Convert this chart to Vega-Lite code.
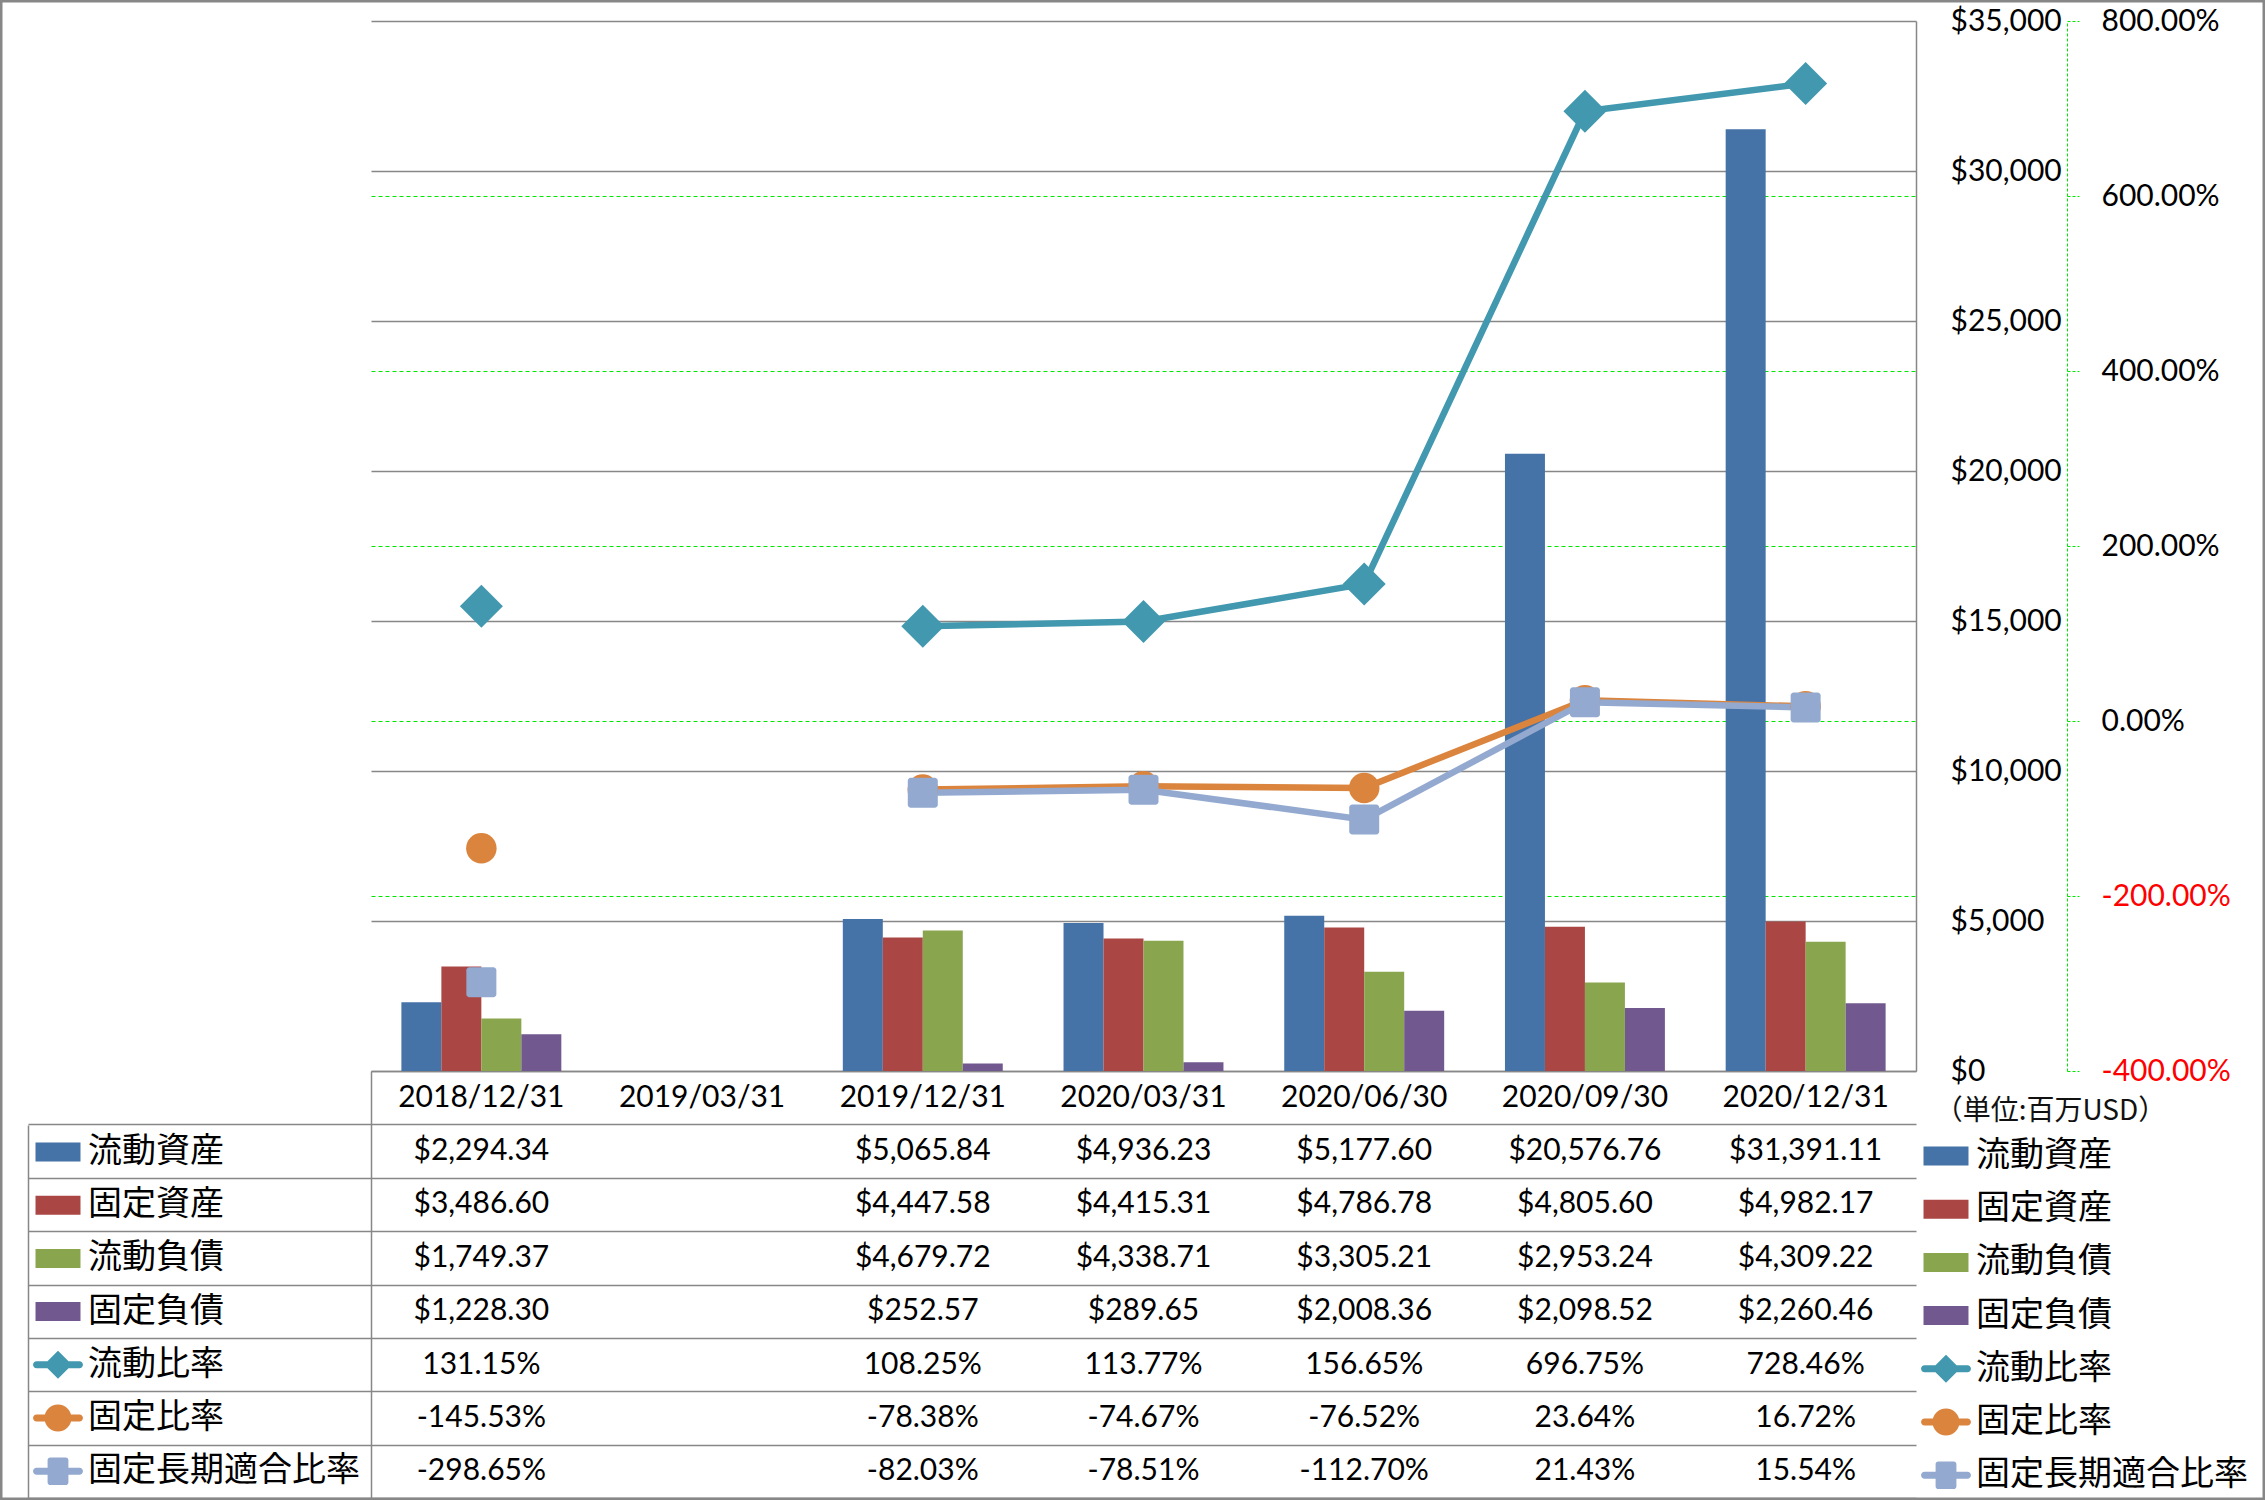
{
  "$schema": "https://vega.github.io/schema/vega-lite/v6.json",
  "width": 2265,
  "height": 1500,
  "padding": 0,
  "autosize": {"type": "none"},
  "background": "#ffffff",
  "config": {"view": {"stroke": "#878787", "strokeWidth": 5}, "font": "Lato"},
  "data": {
    "values": [
      {"date": "2018/12/31", "流動資産": 2294.34, "固定資産": 3486.60, "流動負債": 1749.37, "固定負債": 1228.30, "流動比率": 1.3115, "固定比率": -1.4553, "固定長期適合比率": -2.9865},
      {"date": "2019/03/31", "流動資産": null, "固定資産": null, "流動負債": null, "固定負債": null, "流動比率": null, "固定比率": null, "固定長期適合比率": null},
      {"date": "2019/12/31", "流動資産": 5065.84, "固定資産": 4447.58, "流動負債": 4679.72, "固定負債": 252.57, "流動比率": 1.0825, "固定比率": -0.7838, "固定長期適合比率": -0.8203},
      {"date": "2020/03/31", "流動資産": 4936.23, "固定資産": 4415.31, "流動負債": 4338.71, "固定負債": 289.65, "流動比率": 1.1377, "固定比率": -0.7467, "固定長期適合比率": -0.7851},
      {"date": "2020/06/30", "流動資産": 5177.60, "固定資産": 4786.78, "流動負債": 3305.21, "固定負債": 2008.36, "流動比率": 1.5665, "固定比率": -0.7652, "固定長期適合比率": -1.1270},
      {"date": "2020/09/30", "流動資産": 20576.76, "固定資産": 4805.60, "流動負債": 2953.24, "固定負債": 2098.52, "流動比率": 6.9675, "固定比率": 0.2364, "固定長期適合比率": 0.2143},
      {"date": "2020/12/31", "流動資産": 31391.11, "固定資産": 4982.17, "流動負債": 4309.22, "固定負債": 2260.46, "流動比率": 7.2846, "固定比率": 0.1672, "固定長期適合比率": 0.1554}
    ]
  },
  "layer": [
    {
      "transform": [{"fold": ["流動資産", "固定資産"], "as": ["series", "value"]}],
      "mark": {"type": "bar"},
      "encoding": {
        "x": {"field": "date", "type": "nominal", "sort": null, "scale": {"type": "band", "domain": ["2018/12/31", "2019/03/31", "2019/12/31", "2020/03/31", "2020/06/30", "2020/09/30", "2020/12/31"], "range": [371, 1916], "paddingInner": 0, "paddingOuter": 0}, "axis": null},
        "xOffset": {"field": "series", "type": "nominal", "sort": null, "scale": {"domain": ["流動資産", "固定資産", "流動負債", "固定負債"], "paddingInner": 0, "paddingOuter": 0.76}},
        "y": {
          "field": "value", "type": "quantitative",
          "scale": {"domain": [0, 35000], "range": [1071, 21], "nice": false, "zero": true},
          "axis": {
            "orient": "right", "offset": -349,
            "values": [0, 5000, 10000, 15000, 20000, 25000, 30000, 35000],
            "format": "$,.0f",
            "labelAlign": "left", "labelBaseline": "middle", "labelPadding": 34,
            "labelFont": "Lato", "labelFontSize": 30, "labelColor": "#000000",
            "labelFlush": false, "labelOverlap": false,
            "ticks": false, "tickSize": 0,
            "domain": true, "domainColor": "#878787", "domainWidth": 1.5,
            "grid": false,
            "title": "（単位:百万USD）", "titleAngle": 0, "titleX": 134, "titleY": 1111,
            "titleAlign": "center", "titleBaseline": "middle",
            "titleFont": "Noto Sans CJK JP", "titleFontSize": 28, "titleFontWeight": "normal", "titleColor": "#111111"
          }
        },
        "color": {
          "field": "series", "type": "nominal",
          "scale": {"domain": ["流動資産", "固定資産", "流動負債", "固定負債", "流動比率", "固定比率", "固定長期適合比率"], "range": ["#4572A7", "#AA4643", "#89A54E", "#71588F", "#4198AF", "#DB843D", "#93A9CF"]},
          "legend": {
            "orient": "none", "legendX": 1920, "legendY": 1130, "direction": "vertical", "title": null,
            "labelFont": "Noto Sans CJK JP", "labelFontSize": 34, "labelColor": "#000000", "labelLimit": 400, "labelOffset": 4,
            "rowPadding": 10.2, "symbolSize": 2704, "symbolStrokeWidth": 0, "padding": 0,
            "encode": {"symbols": {"update": {
              "opacity": {"value": 1},
              "shape": {"signal": "datum.value === '流動比率' ? 'M-0.825,-0.135H0.825A0.135,0.135 0 0 1 0.825,0.135H-0.825A0.135,0.135 0 0 1 -0.825,-0.135Z M0,-0.54L0.54,0L0,0.54L-0.54,0Z' : datum.value === '固定比率' ? 'M-0.825,-0.135H0.825A0.135,0.135 0 0 1 0.825,0.135H-0.825A0.135,0.135 0 0 1 -0.825,-0.135Z M-0.52,0A0.52,0.52 0 1 1 0.52,0A0.52,0.52 0 1 1 -0.52,0Z' : datum.value === '固定長期適合比率' ? 'M-0.825,-0.135H0.825A0.135,0.135 0 0 1 0.825,0.135H-0.825A0.135,0.135 0 0 1 -0.825,-0.135Z M-0.3,-0.53H0.3A0.1,0.1 0 0 1 0.4,-0.43V0.43A0.1,0.1 0 0 1 0.3,0.53H-0.3A0.1,0.1 0 0 1 -0.4,0.43V-0.43A0.1,0.1 0 0 1 -0.3,-0.53Z' : 'M-0.865,-0.365H0.865V0.365H-0.865Z'"}
            }}}
          }
        }
      }
    },
    {
      "transform": [{"fold": ["流動負債", "固定負債"], "as": ["series", "value"]}],
      "mark": {"type": "bar"},
      "encoding": {
        "x": {"field": "date", "type": "nominal", "sort": null, "scale": {"type": "band", "domain": ["2018/12/31", "2019/03/31", "2019/12/31", "2020/03/31", "2020/06/30", "2020/09/30", "2020/12/31"], "range": [371, 1916], "paddingInner": 0, "paddingOuter": 0}, "axis": null},
        "xOffset": {"field": "series", "type": "nominal", "sort": null, "scale": {"domain": ["流動資産", "固定資産", "流動負債", "固定負債"], "paddingInner": 0, "paddingOuter": 0.76}},
        "y": {
          "field": "value", "type": "quantitative",
          "scale": {"domain": [0, 35000], "range": [1071, 21], "nice": false, "zero": true},
          "axis": {
            "orient": "left", "offset": 0,
            "values": [0, 5000, 10000, 15000, 20000, 25000, 30000, 35000],
            "labels": false, "ticks": false, "domain": false, "title": null,
            "grid": true, "gridColor": "#878787", "gridWidth": 1.3
          }
        },
        "color": {"field": "series", "type": "nominal", "scale": {"domain": ["流動資産", "固定資産", "流動負債", "固定負債", "流動比率", "固定比率", "固定長期適合比率"], "range": ["#4572A7", "#AA4643", "#89A54E", "#71588F", "#4198AF", "#DB843D", "#93A9CF"]}, "legend": null}
      }
    },
    {
      "transform": [{"fold": ["流動比率", "固定比率", "固定長期適合比率"], "as": ["series", "ratio"]}],
      "mark": {"type": "line", "strokeWidth": 6.5, "invalid": "break-paths-filter-domains"},
      "encoding": {
        "x": {"field": "date", "type": "nominal", "sort": null, "scale": {"type": "band", "domain": ["2018/12/31", "2019/03/31", "2019/12/31", "2020/03/31", "2020/06/30", "2020/09/30", "2020/12/31"], "range": [371, 1916], "paddingInner": 0, "paddingOuter": 0}, "axis": null},
        "y": {
          "field": "ratio", "type": "quantitative",
          "scale": {"domain": [-4, 8], "range": [1071, 21], "nice": false, "zero": false},
          "axis": {
            "orient": "right", "offset": -198,
            "values": [-4, -2, 0, 2, 4, 6, 8],
            "format": ".2%",
            "labelExpr": "replace(datum.label, '−', '-')",
            "labelAlign": "left", "labelBaseline": "middle", "labelPadding": 22,
            "labelFont": "Lato", "labelFontSize": 30,
            "labelColor": {"condition": {"test": "datum.value < 0", "value": "#FF0000"}, "value": "#000000"},
            "labelFlush": false, "labelOverlap": false,
            "ticks": true, "tickSize": 12, "tickColor": "#00E600", "tickDash": [3, 2], "tickWidth": 1,
            "domain": true, "domainColor": "#00E600", "domainDash": [3, 2], "domainWidth": 1,
            "grid": false,
            "title": null
          }
        },
        "color": {"field": "series", "type": "nominal", "scale": {"domain": ["流動資産", "固定資産", "流動負債", "固定負債", "流動比率", "固定比率", "固定長期適合比率"], "range": ["#4572A7", "#AA4643", "#89A54E", "#71588F", "#4198AF", "#DB843D", "#93A9CF"]}, "legend": null}
      }
    },
    {
      "transform": [{"fold": ["流動比率", "固定比率", "固定長期適合比率"], "as": ["series", "ratio"]}, {"filter": "datum.series === '流動比率'"}],
      "mark": {"type": "point", "filled": true, "opacity": 1, "shape": "diamond", "size": 1849, "strokeWidth": 0},
      "encoding": {
        "x": {"field": "date", "type": "nominal", "sort": null, "scale": {"type": "band", "domain": ["2018/12/31", "2019/03/31", "2019/12/31", "2020/03/31", "2020/06/30", "2020/09/30", "2020/12/31"], "range": [371, 1916], "paddingInner": 0, "paddingOuter": 0}, "axis": null},
        "y": {
          "field": "ratio", "type": "quantitative",
          "scale": {"domain": [-4, 8], "range": [1071, 21], "nice": false, "zero": false},
          "axis": {
            "orient": "left", "offset": 0,
            "values": [-2, 0, 2, 4, 6],
            "labels": false, "ticks": false, "domain": false, "title": null,
            "grid": true, "gridColor": "#00E600", "gridDash": [4, 3], "gridWidth": 1
          }
        },
        "color": {"field": "series", "type": "nominal", "scale": {"domain": ["流動資産", "固定資産", "流動負債", "固定負債", "流動比率", "固定比率", "固定長期適合比率"], "range": ["#4572A7", "#AA4643", "#89A54E", "#71588F", "#4198AF", "#DB843D", "#93A9CF"]}, "legend": null}
      }
    },
    {
      "transform": [{"fold": ["流動比率", "固定比率", "固定長期適合比率"], "as": ["series", "ratio"]}, {"filter": "datum.series === '固定比率'"}],
      "mark": {"type": "point", "filled": true, "opacity": 1, "shape": "circle", "size": 930, "strokeWidth": 0},
      "encoding": {
        "x": {"field": "date", "type": "nominal", "sort": null, "scale": {"type": "band", "domain": ["2018/12/31", "2019/03/31", "2019/12/31", "2020/03/31", "2020/06/30", "2020/09/30", "2020/12/31"], "range": [371, 1916], "paddingInner": 0, "paddingOuter": 0}, "axis": null},
        "y": {"field": "ratio", "type": "quantitative", "scale": {"domain": [-4, 8], "range": [1071, 21], "nice": false, "zero": false}, "axis": null},
        "color": {"field": "series", "type": "nominal", "scale": {"domain": ["流動資産", "固定資産", "流動負債", "固定負債", "流動比率", "固定比率", "固定長期適合比率"], "range": ["#4572A7", "#AA4643", "#89A54E", "#71588F", "#4198AF", "#DB843D", "#93A9CF"]}, "legend": null}
      }
    },
    {
      "transform": [{"fold": ["流動比率", "固定比率", "固定長期適合比率"], "as": ["series", "ratio"]}, {"filter": "datum.series === '固定長期適合比率'"}],
      "mark": {"type": "point", "filled": true, "opacity": 1, "shape": "M-0.8,-1H0.8A0.2,0.2 0 0 1 1,-0.8V0.8A0.2,0.2 0 0 1 0.8,1H-0.8A0.2,0.2 0 0 1 -1,0.8V-0.8A0.2,0.2 0 0 1 -0.8,-1Z", "size": 900, "strokeWidth": 0},
      "encoding": {
        "x": {"field": "date", "type": "nominal", "sort": null, "scale": {"type": "band", "domain": ["2018/12/31", "2019/03/31", "2019/12/31", "2020/03/31", "2020/06/30", "2020/09/30", "2020/12/31"], "range": [371, 1916], "paddingInner": 0, "paddingOuter": 0}, "axis": null},
        "y": {"field": "ratio", "type": "quantitative", "scale": {"domain": [-4, 8], "range": [1071, 21], "nice": false, "zero": false}, "axis": null},
        "color": {"field": "series", "type": "nominal", "scale": {"domain": ["流動資産", "固定資産", "流動負債", "固定負債", "流動比率", "固定比率", "固定長期適合比率"], "range": ["#4572A7", "#AA4643", "#89A54E", "#71588F", "#4198AF", "#DB843D", "#93A9CF"]}, "legend": null}
      }
    },
    {
      "transform": [
        {"fold": ["流動資産", "固定資産", "流動負債", "固定負債", "流動比率", "固定比率", "固定長期適合比率"], "as": ["series", "value"]},
        {"filter": "isValid(datum.value)"},
        {"calculate": "indexof(['流動比率', '固定比率', '固定長期適合比率'], datum.series) >= 0 ? replace(format(datum.value, '.2%'), '−', '-') : format(datum.value, '$,.2f')", "as": "label"}
      ],
      "mark": {"type": "text", "font": "Lato", "fontSize": 30, "color": "#000000", "align": "center", "baseline": "middle"},
      "encoding": {
        "x": {
          "field": "date", "type": "nominal", "sort": null,
          "scale": {"type": "band", "domain": ["2018/12/31", "2019/03/31", "2019/12/31", "2020/03/31", "2020/06/30", "2020/09/30", "2020/12/31"], "range": [371, 1916], "paddingInner": 0, "paddingOuter": 0},
          "axis": {"orient": "bottom", "offset": -429, "labels": false, "domain": false, "grid": false, "ticks": true, "tickBand": "extent", "tickSize": 427, "tickColor": "#878787", "tickWidth": 1.5, "title": null}
        },
        "y": {
          "field": "series", "type": "nominal", "sort": null,
          "scale": {"type": "band", "domain": ["header", "流動資産", "固定資産", "流動負債", "固定負債", "流動比率", "固定比率", "固定長期適合比率"], "range": [1071, 1498], "paddingInner": 0, "paddingOuter": 0},
          "axis": {
            "orient": "left", "offset": -371, "labels": false, "title": null,
            "domain": true, "domainColor": "#878787", "domainWidth": 1.5,
            "ticks": true, "tickBand": "extent", "tickSize": 343, "tickColor": "#878787", "tickWidth": 1.5,
            "tickOpacity": {"condition": {"test": "datum.extra", "value": 0}, "value": 1},
            "grid": true, "gridColor": "#878787", "gridWidth": 1.5
          }
        },
        "text": {"field": "label"}
      }
    },
    {
      "mark": {"type": "text", "font": "Lato", "fontSize": 30, "color": "#000000", "align": "center", "baseline": "middle"},
      "encoding": {
        "x": {"field": "date", "type": "nominal", "sort": null, "scale": {"type": "band", "domain": ["2018/12/31", "2019/03/31", "2019/12/31", "2020/03/31", "2020/06/30", "2020/09/30", "2020/12/31"], "range": [371, 1916], "paddingInner": 0, "paddingOuter": 0}, "axis": null},
        "y": {
          "datum": "header", "type": "nominal",
          "scale": {"type": "band", "domain": ["header", "流動資産", "固定資産", "流動負債", "固定負債", "流動比率", "固定比率", "固定長期適合比率"], "range": [1071, 1498], "paddingInner": 0, "paddingOuter": 0},
          "axis": {"orient": "left", "offset": -28, "labels": false, "ticks": false, "grid": false, "title": null, "domain": true, "domainColor": "#878787", "domainWidth": 1.5, "domainDash": [0, 54, 2000]}
        },
        "text": {"field": "date"}
      }
    },
    {
      "transform": [{"fold": ["流動資産", "固定資産", "流動負債", "固定負債", "流動比率", "固定比率", "固定長期適合比率"], "as": ["series", "value"]}],
      "mark": {"type": "point", "filled": true, "opacity": 0},
      "encoding": {
        "x": {"field": "date", "type": "nominal", "sort": null, "scale": {"type": "band", "domain": ["2018/12/31", "2019/03/31", "2019/12/31", "2020/03/31", "2020/06/30", "2020/09/30", "2020/12/31"], "range": [371, 1916], "paddingInner": 0, "paddingOuter": 0}, "axis": null},
        "y": {"field": "series", "type": "nominal", "sort": null, "scale": {"type": "band", "domain": ["header", "流動資産", "固定資産", "流動負債", "固定負債", "流動比率", "固定比率", "固定長期適合比率"], "range": [1071, 1498], "paddingInner": 0, "paddingOuter": 0}, "axis": null},
        "color": {
          "field": "series", "type": "nominal",
          "scale": {"domain": ["流動資産", "固定資産", "流動負債", "固定負債", "流動比率", "固定比率", "固定長期適合比率"], "range": ["#4572A7", "#AA4643", "#89A54E", "#71588F", "#4198AF", "#DB843D", "#93A9CF"]},
          "legend": {
            "orient": "none", "legendX": 32, "legendY": 1126, "direction": "vertical", "title": null,
            "labelFont": "Noto Sans CJK JP", "labelFontSize": 34, "labelColor": "#000000", "labelLimit": 400, "labelOffset": 4,
            "rowPadding": 10.2, "symbolSize": 2704, "symbolStrokeWidth": 0, "padding": 0,
            "encode": {"symbols": {"update": {
              "opacity": {"value": 1},
              "shape": {"signal": "datum.value === '流動比率' ? 'M-0.825,-0.135H0.825A0.135,0.135 0 0 1 0.825,0.135H-0.825A0.135,0.135 0 0 1 -0.825,-0.135Z M0,-0.54L0.54,0L0,0.54L-0.54,0Z' : datum.value === '固定比率' ? 'M-0.825,-0.135H0.825A0.135,0.135 0 0 1 0.825,0.135H-0.825A0.135,0.135 0 0 1 -0.825,-0.135Z M-0.52,0A0.52,0.52 0 1 1 0.52,0A0.52,0.52 0 1 1 -0.52,0Z' : datum.value === '固定長期適合比率' ? 'M-0.825,-0.135H0.825A0.135,0.135 0 0 1 0.825,0.135H-0.825A0.135,0.135 0 0 1 -0.825,-0.135Z M-0.3,-0.53H0.3A0.1,0.1 0 0 1 0.4,-0.43V0.43A0.1,0.1 0 0 1 0.3,0.53H-0.3A0.1,0.1 0 0 1 -0.4,0.43V-0.43A0.1,0.1 0 0 1 -0.3,-0.53Z' : 'M-0.865,-0.365H0.865V0.365H-0.865Z'"}
            }}}
          }
        }
      }
    }
  ],
  "resolve": {"scale": {"y": "independent", "color": "independent"}}
}
